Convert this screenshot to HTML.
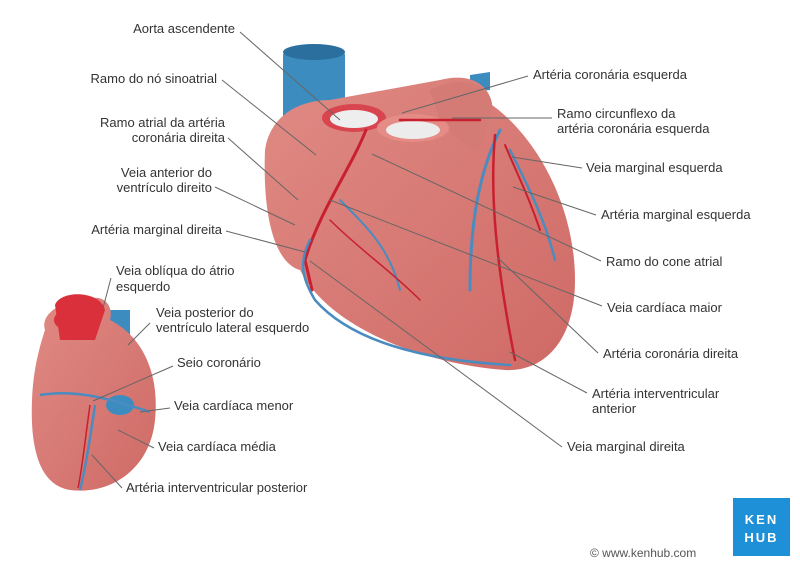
<!DOCTYPE html>
<html><head><meta charset="utf-8"><style>
html,body{margin:0;padding:0;background:#fff;}
svg{display:block;}
text{font-family:"Liberation Sans",sans-serif;font-size:13px;fill:#333;}
</style></head><body>
<svg width="800" height="568" viewBox="0 0 800 568" xmlns="http://www.w3.org/2000/svg">
<defs>
<linearGradient id="hg" x1="0" y1="0" x2="1" y2="1">
<stop offset="0" stop-color="#e08a84"/><stop offset="1" stop-color="#cf6a66"/>
</linearGradient>
</defs>
<!-- big heart -->
<path d="M283,55 C283,45 345,45 345,55 L345,125 L283,125 Z" fill="#3d8cc0"/>
<ellipse cx="314" cy="52" rx="31" ry="8" fill="#2a6f9e"/>
<path d="M470,75 L490,72 L490,90 L470,92 Z" fill="#3d8cc0"/>
<path d="M265,150 C270,115 300,100 330,100 L440,80 C470,72 490,85 492,105 C540,140 575,210 575,280 C575,340 545,372 505,370 C430,365 330,330 300,270 C280,265 262,230 265,150 Z" fill="url(#hg)"/>
<path d="M430,90 C470,70 495,90 492,110 L480,150 C460,145 450,130 440,120 Z" fill="#d47b76"/>
<ellipse cx="354" cy="118" rx="32" ry="14" fill="#d9454f"/>
<ellipse cx="354" cy="119" rx="24" ry="9" fill="#eee"/>
<ellipse cx="413" cy="128" rx="36" ry="14" fill="#e58c86"/>
<ellipse cx="413" cy="130" rx="27" ry="9" fill="#ececec"/>
<g fill="none" stroke-linecap="round">
<path d="M366,130 C350,170 320,210 305,260 L312,290" stroke="#c8202e" stroke-width="3"/>
<path d="M310,240 C300,260 300,275 315,300 C350,340 420,360 510,365" stroke="#4a8cc0" stroke-width="2.5"/>
<path d="M500,130 C480,170 470,220 470,290" stroke="#4a8cc0" stroke-width="3"/>
<path d="M495,135 C490,190 495,260 515,360" stroke="#c8202e" stroke-width="2.5"/>
<path d="M510,150 C530,190 545,220 555,260" stroke="#4a8cc0" stroke-width="2.5"/>
<path d="M505,145 C520,180 530,200 540,230" stroke="#c8202e" stroke-width="2"/>
<path d="M340,200 C370,230 390,250 400,290" stroke="#4a8cc0" stroke-width="2"/>
<path d="M330,220 C360,250 390,270 420,300" stroke="#c8202e" stroke-width="1.5"/>
<path d="M400,120 L480,120" stroke="#c8202e" stroke-width="2.5"/>
</g>
<!-- small heart -->
<path d="M110,310 L130,310 L130,345 L110,345 Z" fill="#3d8cc0"/>
<path d="M45,330 C40,315 60,300 80,305 C95,290 115,300 110,320 C140,335 160,370 155,420 C150,470 110,495 70,490 C40,485 30,450 32,400 C33,370 40,345 45,330 Z" fill="url(#hg)"/>
<path d="M55,305 C60,290 100,290 105,310 L95,340 L60,340 Z" fill="#d9303c"/>
<ellipse cx="68" cy="320" rx="14" ry="10" fill="#d9303c"/>
<ellipse cx="120" cy="405" rx="14" ry="10" fill="#3d8cc0"/>
<g fill="none" stroke="#4a8cc0" stroke-width="2.5"><path d="M40,395 C70,390 100,395 150,412"/><path d="M95,405 C90,440 85,470 80,490"/></g>
<path d="M90,405 C85,440 82,470 78,488" fill="none" stroke="#c8202e" stroke-width="1.5"/>
<!-- leader lines -->
<g stroke="#666" stroke-width="1" fill="none">
<line x1="240" y1="32" x2="340" y2="120"/>
<line x1="222" y1="80" x2="316" y2="155"/>
<line x1="228" y1="138" x2="298" y2="200"/>
<line x1="215" y1="187" x2="295" y2="225"/>
<line x1="226" y1="231" x2="305" y2="252"/>
<line x1="528" y1="76" x2="402" y2="113"/>
<line x1="552" y1="118" x2="452" y2="118"/>
<line x1="582" y1="168" x2="512" y2="157"/>
<line x1="596" y1="215" x2="513" y2="187"/>
<line x1="601" y1="261" x2="372" y2="154"/>
<line x1="602" y1="306" x2="330" y2="200"/>
<line x1="598" y1="353" x2="498" y2="258"/>
<line x1="587" y1="393" x2="510" y2="352"/>
<line x1="562" y1="447" x2="310" y2="261"/>
<line x1="111" y1="278" x2="103" y2="308"/>
<line x1="150" y1="323" x2="128" y2="345"/>
<line x1="173" y1="366" x2="93" y2="401"/>
<line x1="170" y1="408" x2="140" y2="412"/>
<line x1="154" y1="448" x2="118" y2="430"/>
<line x1="122" y1="488" x2="92" y2="455"/>
</g>
<!-- labels -->
<g text-anchor="end">
<text x="235" y="33">Aorta ascendente</text>
<text x="217" y="83">Ramo do nó sinoatrial</text>
<text x="225" y="127">Ramo atrial da artéria</text>
<text x="225" y="142">coronária direita</text>
<text x="212" y="177">Veia anterior do</text>
<text x="212" y="192">ventrículo direito</text>
<text x="222" y="234">Artéria marginal direita</text>
</g>
<text x="533" y="79">Artéria coronária esquerda</text>
<text x="557" y="118">Ramo circunflexo da</text>
<text x="557" y="133">artéria coronária esquerda</text>
<text x="586" y="172">Veia marginal esquerda</text>
<text x="601" y="219">Artéria marginal esquerda</text>
<text x="606" y="266">Ramo do cone atrial</text>
<text x="607" y="312">Veia cardíaca maior</text>
<text x="603" y="358">Artéria coronária direita</text>
<text x="592" y="398">Artéria interventricular</text>
<text x="592" y="413">anterior</text>
<text x="567" y="451">Veia marginal direita</text>
<text x="116" y="275">Veia oblíqua do átrio</text>
<text x="116" y="291">esquerdo</text>
<text x="156" y="317">Veia posterior do</text>
<text x="156" y="332">ventrículo lateral esquerdo</text>
<text x="177" y="367">Seio coronário</text>
<text x="174" y="410">Veia cardíaca menor</text>
<text x="158" y="451">Veia cardíaca média</text>
<text x="126" y="492">Artéria interventricular posterior</text>
<text x="590" y="557" style="font-size:12px;fill:#555">© www.kenhub.com</text>
<rect x="733" y="498" width="57" height="58" fill="#1e90d8"/>
<text x="761.5" y="524" text-anchor="middle" style="fill:#fff;font-size:13px;font-weight:bold;letter-spacing:2px">KEN</text>
<text x="761.5" y="542" text-anchor="middle" style="fill:#fff;font-size:13px;font-weight:bold;letter-spacing:2px">HUB</text>
</svg>
</body></html>
